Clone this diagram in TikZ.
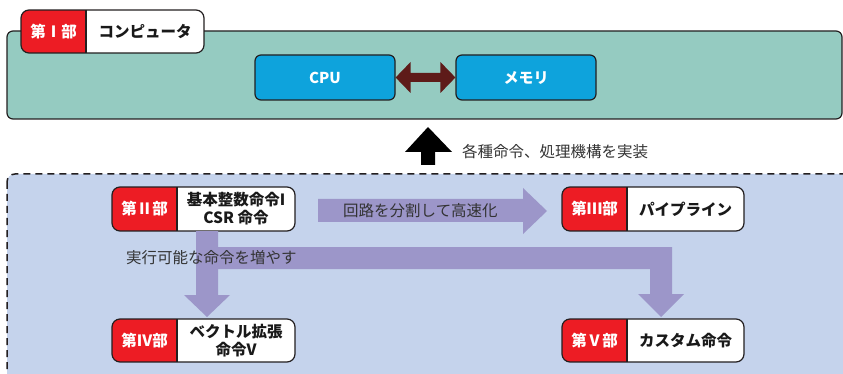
\documentclass[tikz,border=0pt]{standalone}
\usepackage{fontspec}
\usetikzlibrary{calc}
\setmainfont{Noto Sans CJK JP}
\definecolor{tealbg}{HTML}{95CBC1}
\definecolor{partred}{HTML}{ED1C24}
\definecolor{cpublue}{HTML}{0EA3DC}
\definecolor{busred}{HTML}{5E1B19}
\definecolor{lavbg}{HTML}{C5D3EC}
\definecolor{flowpurple}{HTML}{9C96C9}
\definecolor{labgray}{HTML}{333333}
\definecolor{edge}{HTML}{231F20}
\tikzset{
  frameline/.style={draw=edge, line width=1.2pt},
  unitbox/.style={frameline, fill=cpublue, rounded corners=6pt, minimum width=140pt, minimum height=45pt, inner sep=0pt, text=white, font=\fontsize{15}{16}\selectfont\bfseries},
  labtext/.style={text=white, font=\fontsize{15.5}{18}\selectfont\bfseries, inner sep=0pt},
  boxtext/.style={text=black!90, font=\fontsize{15.5}{18}\selectfont\bfseries, align=center, inner sep=0pt},
  flowtext/.style={text=labgray, font=\fontsize{15.5}{18}\selectfont, inner sep=0pt, anchor=west},
}
\newcommand\PartBox[8]{%
  \begin{scope}
    \clip[rounded corners=8pt] (#2,#3) rectangle (#4,#5);
    \fill[partred] (#2,#3) rectangle (#6,#5);
    \fill[white] (#6,#3) rectangle (#4,#5);
  \end{scope}
  \draw[frameline, rounded corners=8pt] (#2,#3) rectangle (#4,#5);
  \draw[frameline] (#6,#3) -- (#6,#5);
  \node[labtext] (#1-lab) at ({(#2+#6)/2},{(#3+#5)/2}) {#7};
  \node[boxtext] (#1) at ({(#6+#4)/2},{(#3+#5)/2}) {#8};
}
\begin{document}
\begin{tikzpicture}[x=1pt,y=-1pt]
\useasboundingbox (0,0) rectangle (843,374);
% bottom dashed region
\begin{scope}
\clip (0,0) rectangle (843,374);
\draw[fill=lavbg, draw=edge, line width=1.5pt, dash pattern=on 7pt off 5pt, rounded corners=8pt] (7,174) rectangle (860,392);
\end{scope}
% top teal region
\draw[frameline, fill=tealbg, rounded corners=6pt] (7,31) rectangle (842,119);
% tab
\PartBox{p1}{21}{10}{204}{53}{86}{第Ⅰ部}{コンピュータ}
% CPU and memory
\node[unitbox] (cpu) at (325,77.5) {CPU};
\node[unitbox] (mem) at (526,77.5) {メモリ};
\fill[busred] (cpu.east) -- ++(15,-15.5) -- ++(0,11) -- ($(mem.west)+(-15,-4.5)$) -- ++(0,-11) -- (mem.west)
  -- ++(-15,15.5) -- ++(0,-11) -- ($(cpu.east)+(15,4.5)$) -- ++(0,11) -- cycle;
% black up arrow
\fill[black] (421,165) -- (421,152) -- (405,152) -- (428,127) -- (452,152) -- (435,152) -- (435,165) -- cycle;
\node[flowtext] (impl) at (462,152) {各種命令、処理機構を実装};
% parts
\PartBox{p2}{112}{187}{295}{231}{177}{第Ⅱ部}{基本整数命令I\\CSR 命令}
\PartBox{p3}{562}{187}{744}{231}{627}{第Ⅲ部}{パイプライン}
\PartBox{p4}{112}{319}{295}{362}{177}{第Ⅳ部}{ベクトル拡張\\命令V}
\PartBox{p5}{562}{319}{744}{362}{627}{第Ⅴ部}{カスタム命令}
% purple flows
\fill[flowpurple] (318,199) -- (523,199) -- (523,188) -- (547,211) -- (523,234) -- (523,222) -- (318,222) -- cycle;
\node[flowtext] (fast) at (343,210.5) {回路を分割して高速化};
\fill[flowpurple] (196,231) -- (218,231) -- (218,247) -- (672,247) -- (672,294) -- (684,294) -- (661,317) -- (638,294) -- (650,294) -- (650,269) -- (218,269) -- (218,295) -- (230,295) -- (207,317) -- (184,295) -- (196,295) -- cycle;
\node[flowtext] (more) at (126,258) {実行可能な命令を増やす};
\end{tikzpicture}
\end{document}
